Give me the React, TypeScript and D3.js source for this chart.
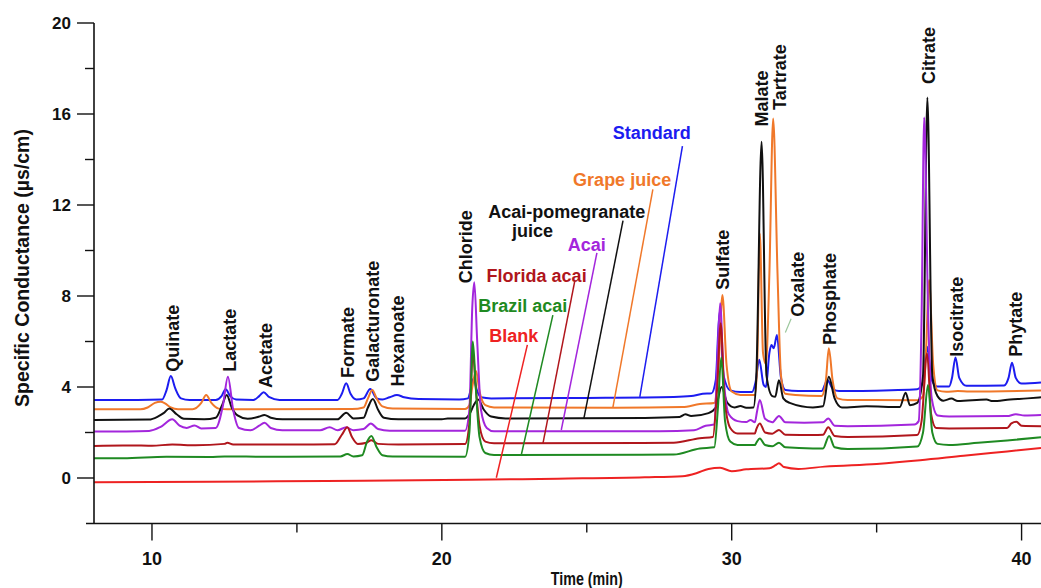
import React from "react";
import * as d3 from "d3";

type P = [number, number];

// ---- axis ticks ----
const yMajor = [0, 4, 8, 12, 16, 20];
const yMinor = [2, 6, 10, 14, 18];
const xMajor = [10, 20, 30, 40];
const xMinor = [15, 25, 35];

// ---- series (time min, conductance µS/cm) ----
const standard: P[] = [
  [8.0, 3.43], [9.5, 3.43], [10.35, 3.45], [10.5, 3.85], [10.65, 4.48], [10.8, 3.95], [11.0, 3.5], [11.3, 3.43],
  [12.2, 3.43], [12.4, 3.6], [12.54, 3.9], [12.7, 3.6], [12.9, 3.45],
  [13.5, 3.43], [13.7, 3.6], [13.85, 3.77], [14.05, 3.55], [14.4, 3.43],
  [16.4, 3.43], [16.55, 3.7], [16.7, 4.16], [16.85, 3.7], [17.05, 3.45],
  [17.3, 3.5], [17.53, 3.91], [17.75, 3.5], [17.95, 3.45],
  [18.2, 3.55], [18.45, 3.65], [18.7, 3.55], [19.2, 3.47], [20.6, 3.45],
  [20.9, 3.5], [21.0, 3.9], [21.1, 4.38], [21.2, 3.9], [21.35, 3.55], [21.7, 3.5],
  [25.0, 3.52], [28.0, 3.56], [28.6, 3.6], [29.0, 3.7], [29.3, 3.72],
  [29.45, 4.3], [29.58, 7.3], [29.72, 4.5], [29.95, 3.85], [30.3, 3.78], [30.7, 3.78],
  [30.82, 4.2], [30.95, 5.2], [31.1, 4.1], [31.18, 4.0],
  [31.3, 5.5], [31.37, 5.85], [31.45, 5.7], [31.56, 6.29], [31.7, 4.4], [31.85, 3.87], [32.3, 3.82],
  [33.1, 3.82], [33.3, 4.3], [33.5, 3.9], [33.7, 3.82],
  [35.5, 3.86], [36.4, 3.9],
  [36.6, 4.2], [36.74, 5.77], [36.9, 4.3], [37.1, 4.02], [37.5, 4.02],
  [37.6, 4.4], [37.72, 5.3], [37.85, 4.4], [38.1, 4.05], [39.4, 4.07],
  [39.55, 4.4], [39.67, 5.07], [39.8, 4.4], [40.0, 4.15], [40.67, 4.2],
];

const grapeJuice: P[] = [
  [8.0, 3.02], [9.6, 3.02], [9.85, 3.1], [10.1, 3.3], [10.3, 3.35], [10.45, 3.28], [10.65, 3.1], [10.9, 3.02],
  [11.4, 3.02], [11.7, 3.3], [11.87, 3.65], [12.05, 3.3], [12.3, 3.05], [12.6, 3.02],
  [16.9, 3.03], [17.3, 3.1], [17.45, 3.5], [17.6, 3.87], [17.75, 3.5], [17.95, 3.15], [18.3, 3.05], [20.8, 3.03],
  [20.95, 3.2], [21.05, 4.0], [21.18, 4.7], [21.3, 3.8], [21.5, 3.2], [21.8, 3.1],
  [26.0, 3.09], [28.3, 3.12], [28.9, 3.25], [29.4, 3.3],
  [29.55, 5.0], [29.68, 8.04], [29.82, 5.0], [30.0, 3.8], [30.3, 3.65], [30.8, 3.65],
  [30.88, 5.0], [30.97, 10.75], [31.08, 5.5], [31.18, 5.0],
  [31.3, 9.0], [31.43, 15.8], [31.58, 9.0], [31.7, 4.5], [31.85, 3.7], [32.2, 3.65],
  [33.1, 3.6], [33.25, 4.3], [33.35, 5.7], [33.48, 4.3], [33.65, 3.5], [34.0, 3.43], [36.4, 3.42],
  [36.6, 3.6], [36.7, 5.5], [36.81, 8.7], [36.95, 5.0], [37.1, 3.85], [37.4, 3.79], [37.8, 3.82],
  [38.2, 3.8], [40.67, 3.85],
];

const acaiPomegranate: P[] = [
  [8.0, 2.55], [9.9, 2.57], [10.2, 2.7], [10.4, 2.85], [10.6, 3.06], [10.85, 2.8], [11.1, 2.6], [11.8, 2.58],
  [12.2, 2.65], [12.42, 3.2], [12.58, 3.65], [12.75, 3.1], [12.95, 2.75], [13.3, 2.6],
  [13.7, 2.7], [13.88, 2.77], [14.1, 2.65], [14.5, 2.58],
  [16.4, 2.58], [16.7, 2.87], [16.95, 2.62], [17.3, 2.65], [17.45, 3.1], [17.62, 3.47], [17.8, 3.0], [18.0, 2.65],
  [18.5, 2.58], [20.0, 2.58], [20.2, 2.62], [20.8, 2.62],
  [20.95, 2.8], [21.1, 3.2], [21.25, 3.45], [21.45, 3.0], [21.7, 2.7], [22.2, 2.62],
  [27.0, 2.64], [28.2, 2.68], [28.4, 2.8], [28.6, 2.72], [29.2, 2.85],
  [29.45, 3.1], [29.65, 4.0], [29.85, 3.3], [30.1, 3.1], [30.3, 3.16], [30.5, 3.09], [30.75, 3.1],
  [30.85, 4.5], [31.03, 14.78], [31.2, 4.5], [31.4, 3.6], [31.5, 3.57], [31.63, 4.3], [31.78, 3.5], [32.0, 3.3], [32.8, 3.1],
  [33.15, 3.15], [33.35, 4.45], [33.55, 3.5], [33.8, 3.1], [34.65, 3.15], [35.8, 3.12], [36.0, 3.75], [36.15, 3.2], [36.4, 3.3],
  [36.6, 4.5], [36.75, 16.73], [36.92, 4.5], [37.1, 3.6], [37.3, 3.4], [37.58, 3.49], [37.8, 3.38],
  [38.79, 3.45], [39.0, 3.38], [39.6, 3.45], [40.2, 3.5], [40.67, 3.55],
];

const acai: P[] = [
  [8.0, 2.04], [9.9, 2.07], [10.3, 2.25], [10.7, 2.58], [10.95, 2.3], [11.2, 2.2], [11.47, 2.31], [11.7, 2.18],
  [12.2, 2.2], [12.45, 3.2], [12.62, 4.45], [12.8, 3.0], [13.0, 2.2], [13.4, 2.1],
  [13.7, 2.3], [13.88, 2.43], [14.1, 2.2], [14.5, 2.1],
  [15.8, 2.1], [16.13, 2.23], [16.4, 2.1], [16.7, 2.23], [16.95, 2.1], [17.3, 2.15], [17.55, 2.4], [17.8, 2.15],
  [18.2, 2.08], [20.8, 2.08],
  [20.95, 3.0], [21.05, 7.5], [21.12, 8.6], [21.22, 6.0], [21.35, 3.0], [21.55, 2.2], [21.8, 2.05],
  [27.5, 2.06], [28.7, 2.1], [29.1, 2.3], [29.4, 2.35],
  [29.5, 5.0], [29.6, 7.68], [29.72, 4.5], [29.9, 2.8], [30.2, 2.5], [30.5, 2.46], [30.65, 2.55], [30.8, 2.45],
  [30.87, 2.9], [30.97, 3.43], [31.15, 2.6], [31.4, 2.45], [31.63, 2.73], [31.85, 2.45], [32.5, 2.43],
  [33.15, 2.45], [33.33, 2.62], [33.55, 2.3], [34.0, 2.28], [36.3, 2.35], [36.45, 2.5],
  [36.55, 7.0], [36.64, 15.85], [36.78, 7.0], [36.9, 3.5], [37.1, 2.75], [37.5, 2.7],
  [39.5, 2.72], [39.8, 2.8], [40.1, 2.75], [40.67, 2.77],
];

const floridaAcai: P[] = [
  [8.0, 1.41], [9.0, 1.43], [10.0, 1.42], [10.7, 1.47], [11.5, 1.44], [12.5, 1.5], [12.6, 1.55], [12.8, 1.47],
  [14.5, 1.47], [16.3, 1.48], [16.55, 1.9], [16.74, 2.23], [16.9, 1.8], [17.1, 1.5],
  [17.4, 1.55], [17.57, 1.66], [17.8, 1.5], [18.5, 1.47], [20.8, 1.49],
  [20.95, 2.4], [21.07, 5.5], [21.17, 4.0], [21.3, 2.3], [21.5, 1.6], [21.8, 1.53],
  [28.0, 1.55], [28.9, 1.75], [29.35, 1.8],
  [29.5, 4.0], [29.62, 6.8], [29.75, 3.5], [29.95, 2.2], [30.2, 1.96], [30.8, 1.96],
  [30.85, 2.15], [30.97, 2.4], [31.15, 2.0], [31.4, 1.95], [31.63, 2.11], [31.85, 1.9], [32.8, 1.89],
  [33.15, 1.9], [33.33, 2.23], [33.55, 1.85], [34.0, 1.8], [36.4, 1.89],
  [36.55, 2.5], [36.74, 5.48], [36.88, 2.8], [37.05, 2.2], [37.5, 2.18],
  [39.5, 2.2], [39.65, 2.4], [39.82, 2.47], [40.0, 2.3], [40.67, 2.28],
];

const brazilAcai: P[] = [
  [8.0, 0.87], [9.0, 0.87], [10.5, 0.93], [12.0, 0.92], [12.5, 0.95], [14.0, 0.93], [16.5, 0.95],
  [16.74, 1.05], [16.95, 0.95], [17.25, 1.0], [17.42, 1.6], [17.57, 1.85], [17.75, 1.35], [17.95, 1.0],
  [18.3, 0.94], [20.8, 0.93],
  [20.95, 2.0], [21.07, 6.0], [21.17, 4.0], [21.3, 1.8], [21.5, 1.1], [21.8, 1.01],
  [28.0, 1.03], [28.9, 1.3], [29.4, 1.35],
  [29.52, 3.0], [29.64, 5.3], [29.77, 2.5], [29.95, 1.6], [30.2, 1.45], [30.8, 1.45],
  [30.85, 1.55], [30.97, 1.74], [31.15, 1.45], [31.4, 1.4], [31.63, 1.55], [31.85, 1.35], [32.8, 1.3],
  [33.15, 1.3], [33.36, 1.85], [33.55, 1.35], [34.0, 1.27], [36.4, 1.38],
  [36.6, 2.0], [36.77, 4.09], [36.92, 2.0], [37.1, 1.5], [37.5, 1.45],
  [38.5, 1.55], [39.5, 1.65], [40.67, 1.79],
];

const blank: P[] = [
  [8.0, -0.19], [12.0, -0.17], [16.0, -0.13], [21.0, -0.08], [24.0, -0.03], [27.0, 0.03], [28.3, 0.08],
  [28.8, 0.22], [29.2, 0.4], [29.6, 0.45], [30.0, 0.3], [30.5, 0.38], [31.3, 0.43], [31.5, 0.55],
  [31.63, 0.65], [31.8, 0.48], [32.3, 0.4], [33.2, 0.5], [35.0, 0.62], [36.5, 0.78], [38.0, 0.98],
  [39.5, 1.17], [40.67, 1.32],
];

const seriesNames = ["Standard", "Grape juice", "Acai-pomegranate juice", "Acai", "Florida acai", "Brazil acai", "Blank"];
const seriesColors = ["#1c1cf0", "#f0782a", "#111111", "#a326dc", "#b0161c", "#1f8a22", "#ee2222"];
const seriesData = [standard, grapeJuice, acaiPomegranate, acai, floridaAcai, brazilAcai, blank];

// series labels: text lines [text, t, v, series index]
const labelTexts: [string, number, number, number][] = [
  ["Standard", 27.24, 15.15, 0],
  ["Grape juice", 26.22, 13.12, 1],
  ["Acai-pomegranate", 24.31, 11.7, 2],
  ["juice", 23.13, 10.87, 2],
  ["Acai", 25.0, 10.24, 3],
  ["Florida acai", 23.27, 8.89, 4],
  ["Brazil acai", 22.79, 7.56, 5],
  ["Blank", 22.48, 6.24, 6],
];
// leader lines [t1, v1, t2, v2, series index]
const leaders: [number, number, number, number, number][] = [
  [28.3, 14.59, 26.83, 3.57, 0],
  [27.28, 12.69, 25.9, 3.09, 1],
  [26.25, 11.31, 24.9, 2.62, 2],
  [25.35, 9.9, 24.12, 2.11, 3],
  [24.58, 8.62, 23.49, 1.53, 4],
  [23.83, 7.16, 22.74, 1.01, 5],
  [22.95, 5.85, 21.88, 0.01, 6],
];

// peak names: [name, t (centre), v (bottom of text)]
const peakLabels: [string, number, number][] = [
  ["Quinate", 10.72, 4.67],
  ["Lactate", 12.68, 4.67],
  ["Acetate", 13.93, 3.96],
  ["Formate", 16.78, 4.4],
  ["Galacturonate", 17.62, 4.23],
  ["Hexanoate", 18.48, 4.02],
  ["Chloride", 20.85, 8.56],
  ["Sulfate", 29.71, 8.27],
  ["Malate", 31.03, 15.45],
  ["Tartrate", 31.68, 16.18],
  ["Oxalate", 32.29, 7.09],
  ["Phosphate", 33.39, 5.85],
  ["Citrate", 36.8, 17.32],
  ["Isocitrate", 37.77, 5.33],
  ["Phytate", 39.8, 5.33],
];

const FONT = "'Liberation Sans', Arial, Helvetica, sans-serif";

export default function App() {
  const W = 1041, H = 588;
  const x = d3.scaleLinear().domain([8, 40.67]).range([94, 1041]);
  const y = d3.scaleLinear().domain([-2, 20]).range([523.5, 23]);
  const line = d3.line<P>().x((d) => x(d[0])).y((d) => y(d[1])).curve(d3.curveMonotoneX);
  const y0 = y(-2);
  const xAxisX = x(8);

  return (
    <svg width={W} height={H} style={{ position: "absolute", left: 0, top: 0, background: "#fff" }} fontFamily={FONT}>
      <defs>
        <clipPath id="plot">
          <rect x={xAxisX} y={0} width={W - xAxisX} height={y0} />
        </clipPath>
      </defs>
      <rect width={W} height={H} fill="#fff" />

      {/* traces */}
      <g clipPath="url(#plot)">
        {seriesData.map((s, i) => (
          <path key={i} d={line(s) || ""} fill="none" stroke={seriesColors[i]} strokeWidth={2} strokeLinejoin="round">
            <title>{seriesNames[i]}</title>
          </path>
        ))}
      </g>

      {/* leader lines */}
      {leaders.map(([t1, v1, t2, v2, c], i) => (
        <line key={i} x1={x(t1)} y1={y(v1)} x2={x(t2)} y2={y(v2)} stroke={seriesColors[c]} strokeWidth={1.5} />
      ))}
      {/* oxalate small leader */}
      <line x1={x(32.05)} y1={y(7.0)} x2={x(31.85)} y2={y(6.4)} stroke="#9cc79c" strokeWidth={1.2} />

      {/* series labels */}
      {labelTexts.map(([txt, t, v, c], i) => (
        <text key={i} x={x(t)} y={y(v)} textAnchor="middle" dominantBaseline="central"
          fontSize={18} fontWeight="bold" fill={seriesColors[c]}>{txt}</text>
      ))}

      {/* peak labels */}
      {peakLabels.map(([txt, t, v], i) => (
        <text key={i} x={x(t)} y={y(v)} transform={`rotate(-90, ${x(t)}, ${y(v)})`} textAnchor="start"
          dominantBaseline="central" fontSize={18} fontWeight="bold" fill="#111">{txt}</text>
      ))}

      {/* axes */}
      <line x1={xAxisX} y1={y(20)} x2={xAxisX} y2={y0} stroke="#111" strokeWidth={1.6} />
      <line x1={86} y1={y0} x2={W} y2={y0} stroke="#111" strokeWidth={1.6} />
      {yMajor.map((v) => (
        <g key={"ym" + v}>
          <line x1={xAxisX - 17} x2={xAxisX} y1={y(v)} y2={y(v)} stroke="#111" strokeWidth={1.4} />
          <text x={xAxisX - 23} y={y(v)} textAnchor="end" dominantBaseline="central" fontSize={17} fontWeight="bold" fill="#111">{v}</text>
        </g>
      ))}
      {yMinor.map((v) => (
        <line key={"yn" + v} x1={xAxisX - 9} x2={xAxisX} y1={y(v)} y2={y(v)} stroke="#111" strokeWidth={1.4} />
      ))}
      {xMajor.map((t) => (
        <g key={"xm" + t}>
          <line x1={x(t)} x2={x(t)} y1={y0} y2={y0 + 17} stroke="#111" strokeWidth={1.4} />
          <text x={x(t)} y={y0 + 35} textAnchor="middle" dominantBaseline="central" fontSize={18} fontWeight="bold" fill="#111"
            textLength={20} lengthAdjust="spacingAndGlyphs">{t}</text>
        </g>
      ))}
      {xMinor.map((t) => (
        <line key={"xn" + t} x1={x(t)} x2={x(t)} y1={y0} y2={y0 + 9} stroke="#111" strokeWidth={1.4} />
      ))}

      {/* axis titles */}
      <text x={x(25)} y={578} textAnchor="middle" dominantBaseline="central" fontSize={19} fontWeight="bold" fill="#111"
        textLength={72} lengthAdjust="spacingAndGlyphs">Time (min)</text>
      <text x={22} y={268} transform="rotate(-90, 22, 268)" textAnchor="middle" dominantBaseline="central"
        fontSize={19.5} fontWeight="bold" fill="#111">Specific Conductance (µs/cm)</text>
    </svg>
  );
}
